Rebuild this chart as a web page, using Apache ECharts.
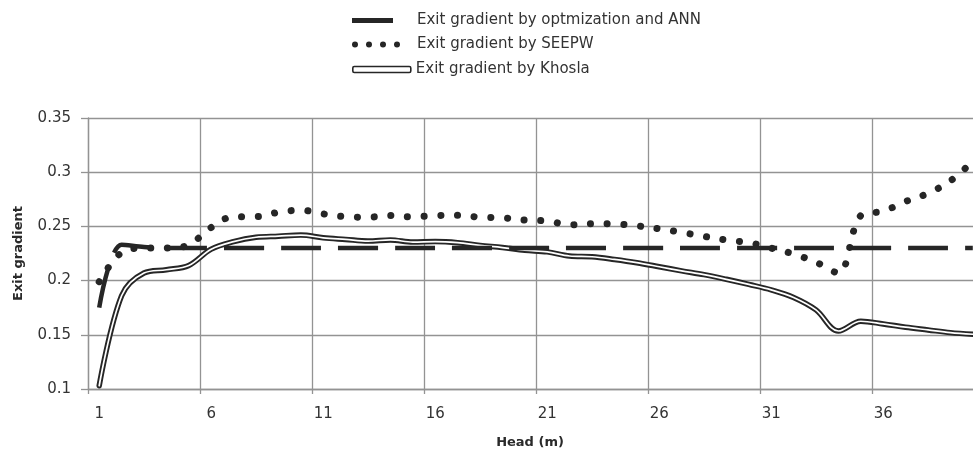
<!DOCTYPE html>
<html>
<head>
<meta charset="utf-8">
<script src="https://cdn.jsdelivr.net/npm/echarts@6/dist/echarts.min.js"></script>
<style>
  html, body { margin: 0; padding: 0; background: #fff; }
  #chart { width: 973px; height: 456px; }
</style>
</head>
<body>
<div id="chart"></div>
<script>
// Head (m) categories
const heads = ["1", "2", "3", "4", "5", "6", "7", "8", "9", "10",
  "11", "12", "13", "14", "15", "16", "17", "18", "19", "20",
  "21", "22", "23", "24", "25", "26", "27", "28", "29", "30",
  "31", "32", "33", "34", "35", "36", "37", "38", "39", "40"];

// exit gradient by optimization and ANN
const annGradient = [0.175, 0.233, 0.231, 0.23, 0.23, 0.23, 0.23, 0.23, 0.23, 0.23,
  0.23, 0.23, 0.23, 0.23, 0.23, 0.23, 0.23, 0.23, 0.23, 0.23,
  0.23, 0.23, 0.23, 0.23, 0.23, 0.23, 0.23, 0.23, 0.23, 0.23,
  0.23, 0.23, 0.23, 0.23, 0.23, 0.23, 0.23, 0.23, 0.23, 0.23];

// exit gradient by SEEPW
const seepwGradient = [0.199, 0.226, 0.23, 0.23, 0.233, 0.249, 0.259, 0.259, 0.263, 0.265,
  0.2615, 0.259, 0.2585, 0.26, 0.2588, 0.26, 0.2603, 0.2585, 0.258, 0.2558,
  0.255, 0.2515, 0.2525, 0.2523, 0.2505, 0.2478, 0.2445, 0.2408, 0.2374, 0.235,
  0.23, 0.2245, 0.217, 0.207, 0.26, 0.264, 0.273, 0.2805, 0.292, 0.31];

// exit gradient by Khosla
const khoslaGradient = [0.103, 0.186, 0.207, 0.21, 0.214, 0.229, 0.236, 0.24, 0.241, 0.242,
  0.2395, 0.238, 0.2365, 0.2375, 0.2355, 0.236, 0.235, 0.2325, 0.2305, 0.228,
  0.2265, 0.2227, 0.222, 0.2195, 0.2165, 0.2128, 0.209, 0.2055, 0.2012, 0.1965,
  0.1915, 0.1845, 0.173, 0.1535, 0.1625, 0.16, 0.157, 0.1545, 0.152, 0.1505];

// y axis ticks 0.1 .. 0.35
const yMin = 0.1;
const yMax = 0.35;
const yStep = 0.05;

const names = ["Exit gradient by optmization and ANN", "Exit gradient by SEEPW", "Exit gradient by Khosla"];
const lineColor = "#262626";
const gridColor = "#939393";
const font = "DejaVu Sans";

const dotsIcon = "path://M0,3A3,3 0 1,0 6,3A3,3 0 1,0 0,3Z M14,3A3,3 0 1,0 20,3A3,3 0 1,0 14,3Z " +
  "M28,3A3,3 0 1,0 34,3A3,3 0 1,0 28,3Z M42,3A3,3 0 1,0 48,3A3,3 0 1,0 42,3Z";

const legendText = (pad) => ({ color: "#333", fontFamily: font, fontSize: 15, padding: [0, 0, 0, pad] });

const option = {
  animation: false,
  backgroundColor: "#fff",
  legend: [
    {
      data: [names[0]], left: 347, top: 8, selectedMode: false,
      icon: "rect", itemWidth: 41, itemHeight: 5,
      itemStyle: { color: lineColor, borderWidth: 0 },
      textStyle: legendText(19)
    },
    {
      data: [names[1]], left: 347, top: 32, selectedMode: false,
      icon: dotsIcon, itemWidth: 48, itemHeight: 6,
      itemStyle: { color: lineColor, borderWidth: 0 },
      textStyle: legendText(12)
    },
    {
      data: [names[2]], left: 347, top: 57, selectedMode: false,
      icon: "roundRect", itemWidth: 58, itemHeight: 6,
      itemStyle: { color: "#fff", borderColor: lineColor, borderWidth: 1.6 },
      textStyle: legendText(0)
    }
  ],
  grid: { left: 88, top: 118, width: 896, height: 271, containLabel: false, outerBoundsMode: "none" },
  xAxis: {
    type: "category",
    data: heads,
    boundaryGap: true,
    name: "Head (m)",
    nameLocation: "middle",
    nameGap: 47,
    nameTextStyle: { fontFamily: font, fontSize: 13, fontWeight: "bold", color: "#2a2a2a", padding: [0, 12, 0, 0] },
    axisLine: { lineStyle: { color: gridColor, width: 1.3 } },
    axisTick: { show: true, interval: 4, length: 5, lineStyle: { color: gridColor, width: 1.3 } },
    axisLabel: { interval: 4, margin: 18, fontFamily: font, fontSize: 15, color: "#333" },
    splitLine: { show: true, interval: 4, lineStyle: { color: gridColor, width: 1.3 } }
  },
  yAxis: {
    type: "value",
    min: yMin,
    max: yMax,
    interval: yStep,
    name: "Exit gradient",
    nameLocation: "middle",
    nameGap: 63,
    nameTextStyle: { fontFamily: font, fontSize: 13, fontWeight: "bold", color: "#2a2a2a" },
    axisLine: { show: true, lineStyle: { color: gridColor, width: 1.3 } },
    axisTick: { show: true, length: 7, lineStyle: { color: gridColor, width: 1.3 } },
    axisLabel: { margin: 17, fontFamily: font, fontSize: 15, color: "#333" },
    splitLine: { show: true, lineStyle: { color: gridColor, width: 1.3 } }
  },
  series: [
    {
      name: names[2],
      type: "line",
      data: khoslaGradient,
      smooth: 0.35,
      symbol: "none",
      z: 2,
      color: lineColor,
      lineStyle: { color: lineColor, width: 5.5, cap: "round", join: "round" }
    },
    {
      name: "khoslaInner",
      type: "line",
      data: khoslaGradient,
      smooth: 0.35,
      symbol: "none",
      z: 3,
      lineStyle: { color: "#fff", width: 1.7, cap: "round", join: "round" }
    },
    {
      name: names[1],
      type: "line",
      data: seepwGradient,
      smooth: 0.35,
      symbol: "none",
      z: 4,
      color: lineColor,
      lineStyle: { color: lineColor, width: 7, type: [0.1, 16.6], cap: "round", join: "round" }
    },
    {
      name: names[0],
      type: "line",
      data: annGradient,
      smooth: 0.35,
      symbol: "none",
      z: 5,
      color: lineColor,
      lineStyle: { color: lineColor, width: 4.5, type: [40, 17], cap: "butt", join: "round" }
    }
  ]
};

const myChart = echarts.init(document.getElementById("chart"));
myChart.setOption(option);
window.addEventListener("resize", () => {
  myChart.resize();
});
</script>
</body>
</html>
